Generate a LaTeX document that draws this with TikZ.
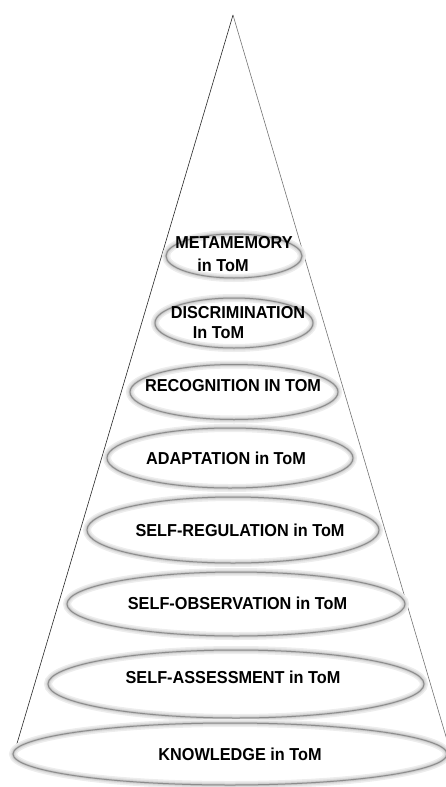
\documentclass[tikz,border=0pt]{standalone}
\usepackage{fontspec}
\setmainfont[FakeStretch=0.94]{Liberation Sans}
\usetikzlibrary{shapes.geometric}
\begin{document}
\begin{tikzpicture}[x=1pt,y=-1pt,
  layer/.style={ellipse, draw=black!45, line width=1pt, inner sep=0pt,
    preaction={draw=black!7, line width=8pt},
    preaction={draw=black!13, line width=5pt},
    preaction={draw=black!22, line width=2.5pt}},
  lbl/.style={font=\fontsize{17.3}{21}\selectfont\bfseries, text=black,
    inner sep=0pt, align=left},
  coneline/.style={line width=0.6pt}]
\useasboundingbox (0,0) rectangle (446,787);

% cone outline
\coordinate (apex) at (233,15);
\coordinate (bl) at (13,757);
\coordinate (br) at (447,740);
\draw[coneline, black!85] (apex) -- (bl);
\draw[coneline, black!55] (apex) -- (br);

% stacked layers, top to bottom
\node[layer, minimum width=136, minimum height=44] (meta) at (234,256) {};
\node[layer, minimum width=158, minimum height=50] (disc) at (234,323) {};
\node[layer, minimum width=208, minimum height=55] (reco) at (234,392) {};
\node[layer, minimum width=246, minimum height=60] (adap) at (230,458) {};
\node[layer, minimum width=292, minimum height=66] (sreg) at (233,530) {};
\node[layer, minimum width=338, minimum height=64] (sobs) at (236,604) {};
\node[layer, minimum width=376, minimum height=68] (sass) at (236,684) {};
\node[layer, minimum width=434, minimum height=62] (know) at (230,754) {};

% layer texts
\node[lbl] (tmeta) at (234,242.5) {METAMEMORY};
\node[lbl] (tmeta2) at (223,265) {in ToM};
\node[lbl] (tdisc) at (238,313) {DISCRIMINATION};
\node[lbl] (tdisc2) at (218.5,332.5) {In ToM};
\node[lbl] (treco) at (233,386) {RECOGNITION IN TOM};
\node[lbl] (tadap) at (226,458) {ADAPTATION in ToM};
\node[lbl] (tsreg) at (240,530) {SELF-REGULATION in ToM};
\node[lbl] (tsobs) at (237.5,603.5) {SELF-OBSERVATION in ToM};
\node[lbl] (tsass) at (233,677) {SELF-ASSESSMENT in ToM};
\node[lbl] (tknow) at (240,754) {KNOWLEDGE in ToM};
\end{tikzpicture}
\end{document}
